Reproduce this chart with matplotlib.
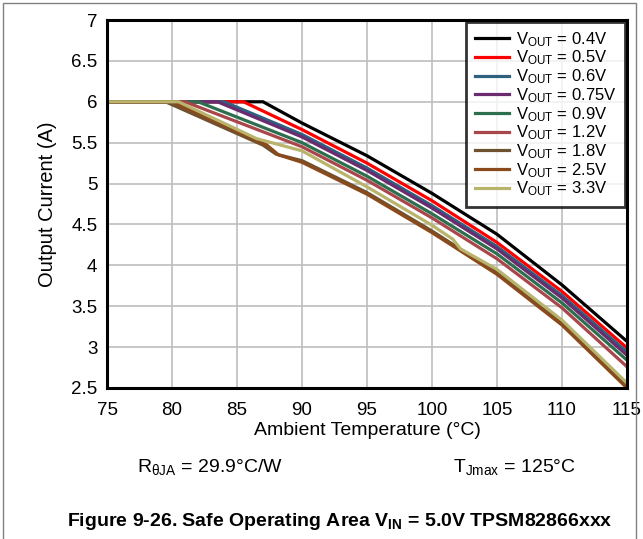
import matplotlib
matplotlib.use("Agg")
import matplotlib.pyplot as plt
from matplotlib.patches import Rectangle

plt.rcParams['font.family'] = ['Liberation Sans', 'DejaVu Sans']
plt.rcParams['mathtext.fontset'] = 'custom'
plt.rcParams['mathtext.rm'] = 'Liberation Sans'
plt.rcParams['mathtext.it'] = 'Liberation Sans:italic'
plt.rcParams['mathtext.bf'] = 'Liberation Sans:bold'

labels = [r'V$_{\mathrm{OUT}}$ = 0.4V', r'V$_{\mathrm{OUT}}$ = 0.5V', r'V$_{\mathrm{OUT}}$ = 0.6V',
          r'V$_{\mathrm{OUT}}$ = 0.75V', r'V$_{\mathrm{OUT}}$ = 0.9V', r'V$_{\mathrm{OUT}}$ = 1.2V',
          r'V$_{\mathrm{OUT}}$ = 1.8V', r'V$_{\mathrm{OUT}}$ = 2.5V', r'V$_{\mathrm{OUT}}$ = 3.3V']
colors = ['#000000', '#FF0000', '#2F6080', '#6A2C6E', '#2D6E4E', '#A8464A', '#6E5230', '#8A4A1C', '#B8B46C']

t_04 = [75, 87, 90, 95, 100, 105, 110, 115]
i_04 = [6, 6, 5.74, 5.34, 4.88, 4.38, 3.76, 3.07]
t_05 = [75, 85.5, 90, 95, 100, 105, 110, 115]
i_05 = [6, 6, 5.66, 5.25, 4.79, 4.28, 3.68, 2.99]
t_06 = [75, 84, 90, 95, 100, 105, 110, 115]
i_06 = [6, 6, 5.60, 5.19, 4.73, 4.23, 3.63, 2.94]
t_075 = [75, 83.5, 90, 95, 100, 105, 110, 115]
i_075 = [6, 6, 5.57, 5.16, 4.70, 4.20, 3.60, 2.90]
t_09 = [75, 82, 90, 95, 100, 105, 110, 115]
i_09 = [6, 6, 5.50, 5.09, 4.63, 4.14, 3.54, 2.84]
t_12 = [75, 81, 90, 95, 100, 105, 110, 115]
i_12 = [6, 6, 5.45, 5.04, 4.58, 4.08, 3.48, 2.76]
t_18 = [75, 79.5, 87, 88, 90, 95, 100, 105, 110, 115]
i_18 = [6, 6, 5.47, 5.36, 5.28, 4.89, 4.42, 3.91, 3.29, 2.52]
t_25 = [75, 80, 87.3, 88.2, 90, 95, 100, 105, 110, 115]
i_25 = [6, 6, 5.47, 5.35, 5.26, 4.87, 4.40, 3.89, 3.27, 2.50]
t_33 = [75, 80.5, 86.5, 90, 95, 100, 101.6, 102.2, 105, 110, 115]
i_33 = [6, 6, 5.55, 5.40, 4.96, 4.49, 4.32, 4.20, 3.95, 3.33, 2.56]

temps = [t_04, t_05, t_06, t_075, t_09, t_12, t_18, t_25, t_33]
currents = [i_04, i_05, i_06, i_075, i_09, i_12, i_18, i_25, i_33]

xticks = [75, 80, 85, 90, 95, 100, 105, 110, 115]
yticks = [2.5, 3, 3.5, 4, 4.5, 5, 5.5, 6, 6.5, 7]

W, H = 643, 539
fig = plt.figure(figsize=(W / 100, H / 100), dpi=100)
fig.patches.append(Rectangle((3 / W, -0.05), (636 - 3) / W, 1.05 - 3 / H,
                             transform=fig.transFigure, fill=False,
                             edgecolor='#808080', lw=1.0))

ax = fig.add_axes([107 / W, 1 - 388 / H, (627 - 107) / W, (388 - 20) / H])
for t, c, col, lab in zip(temps, currents, colors, labels):
    ax.plot(t, c, color=col, lw=2.3, label=lab, solid_joinstyle='miter')

ax.set_xlim(75, 115)
ax.set_ylim(2.5, 7)
ax.set_xticks(xticks)
ax.set_yticks(yticks)
ax.set_xticklabels([str(v) for v in xticks])
ax.set_yticklabels([('%g' % v) for v in yticks])
ax.tick_params(length=0, labelsize=13.5, colors='#000000')
ax.tick_params(axis='x', pad=10)
ax.tick_params(axis='y', pad=7)
ax.grid(True, color='#BEBEBE', lw=1.2)
ax.set_axisbelow(True)
for s in ax.spines.values():
    s.set_linewidth(2.2)
    s.set_color('black')

ax.set_xlabel('Ambient Temperature (°C)', fontsize=14, labelpad=2)
ax.set_ylabel('Output Current (A)', fontsize=14.5, labelpad=10)

leg = ax.legend(loc='upper right', bbox_to_anchor=(1.0, 1.0), fontsize=12,
                handlelength=2.05, handletextpad=0.45, labelspacing=0.0,
                borderaxespad=0.1, borderpad=0.5, frameon=True, fancybox=False)
leg.get_frame().set_edgecolor('black')
leg.get_frame().set_linewidth(2.0)
for l in leg.get_lines():
    l.set_linewidth(2.3)

fig.text(210 / W, 1 - 467 / H, r'R$_{\mathrm{θJA}}$ = 29.9°C/W', fontsize=14,
         ha='center', va='center')
fig.text(515 / W, 1 - 467 / H, r'T$_{\mathrm{Jmax}}$ = 125°C', fontsize=14,
         ha='center', va='center')
fig.text(340 / W, 1 - 522 / H, r'Figure 9-26. Safe Operating Area V$_{\mathbf{IN}}$ = 5.0V TPSM82866xxx',
         fontsize=14, fontweight='bold', ha='center', va='center')

fig.savefig('out.png', dpi=100)
